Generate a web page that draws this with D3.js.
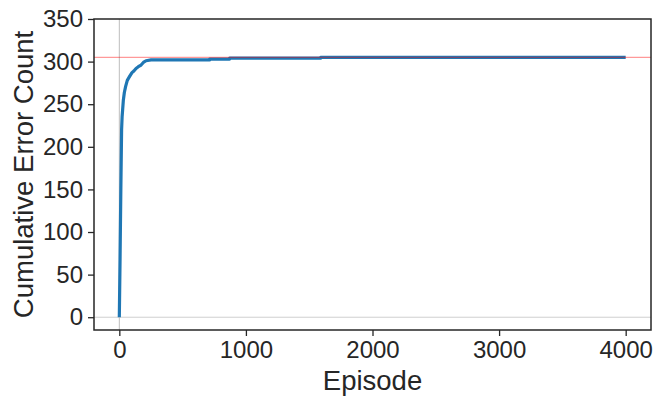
<!DOCTYPE html>
<html><head><meta charset="utf-8">
<script src="https://cdn.jsdelivr.net/npm/d3@7"></script>
<style>body{margin:0;background:#fff}svg{display:block}text{font-family:"Liberation Sans",Arial,sans-serif;fill:#262626}</style>
</head><body><div id="chart"></div>
<script>
const episodes = [0,6,12,18,22,26,32,40,50,63,79,100,115,132,150,172,190,211,251,713,713,871,871,1590,1590,4000];
const errors   = [0,70,150,220,235,243,255,264,271,278,282,287,289,292,294,296,299,301,302,302,303,303,304,304,305,305];
const xTicks = [0,1000,2000,3000,4000];
const yTicks = [0,50,100,150,200,250,300,350];
const refLevel = 305;
const xLabel = "Episode", yLabel = "Cumulative Error Count";

const W=664,H=406, m={l:94,r:13,t:19,b:76};
const svg=d3.select("#chart").append("svg").attr("width",W).attr("height",H);
const x=d3.scaleLinear().domain([-200,4200]).range([m.l,W-m.r]);
const y=d3.scaleLinear().domain([-15,350]).range([H-m.b,m.t]);
const g=svg.append("g");
g.append("line").attr("x1",x(0)).attr("x2",x(0)).attr("y1",y(-15)).attr("y2",y(350)).attr("stroke","#bdbdbd").attr("stroke-width",1);
g.append("line").attr("x1",m.l).attr("x2",W-m.r).attr("y1",y(0)).attr("y2",y(0)).attr("stroke","#cfcfcf").attr("stroke-width",1);
const data=episodes.map((e,i)=>[e,errors[i]]);
g.append("path").datum(data).attr("fill","none").attr("stroke","#1f77b4").attr("stroke-width",3.2)
 .attr("stroke-linejoin","round").attr("d",d3.line().x(d=>x(d[0])).y(d=>y(d[1])));
g.append("line").attr("x1",m.l).attr("x2",W-m.r).attr("y1",y(refLevel)).attr("y2",y(refLevel)).attr("stroke","#f00").attr("stroke-opacity",0.4).attr("stroke-width",1.2);
const xa=svg.append("g").attr("transform",`translate(0,${H-m.b})`).call(d3.axisBottom(x).tickValues(xTicks).tickSize(6).tickPadding(5).tickFormat(d3.format("d")));
const ya=svg.append("g").attr("transform",`translate(${m.l},0)`).call(d3.axisLeft(y).tickValues(yTicks).tickSize(6).tickPadding(5).tickFormat(d3.format("d")));
[xa,ya].forEach(a=>{a.selectAll("text").style("font-size","24px").attr("fill","#262626");a.selectAll("line").attr("stroke","#262626").attr("stroke-width",1.3);a.select(".domain").remove();});
svg.append("rect").attr("x",m.l).attr("y",m.t).attr("width",W-m.r-m.l).attr("height",H-m.b-m.t).attr("fill","none").attr("stroke","#262626").attr("stroke-width",1.5);
svg.append("text").attr("x",(m.l+W-m.r)/2).attr("y",390).attr("text-anchor","middle").style("font-size","27.5px").text(xLabel);
svg.append("text").attr("transform",`translate(33,${(m.t+H-m.b)/2}) rotate(-90)`).attr("text-anchor","middle").style("font-size","27.5px").text(yLabel);
</script></body></html>
